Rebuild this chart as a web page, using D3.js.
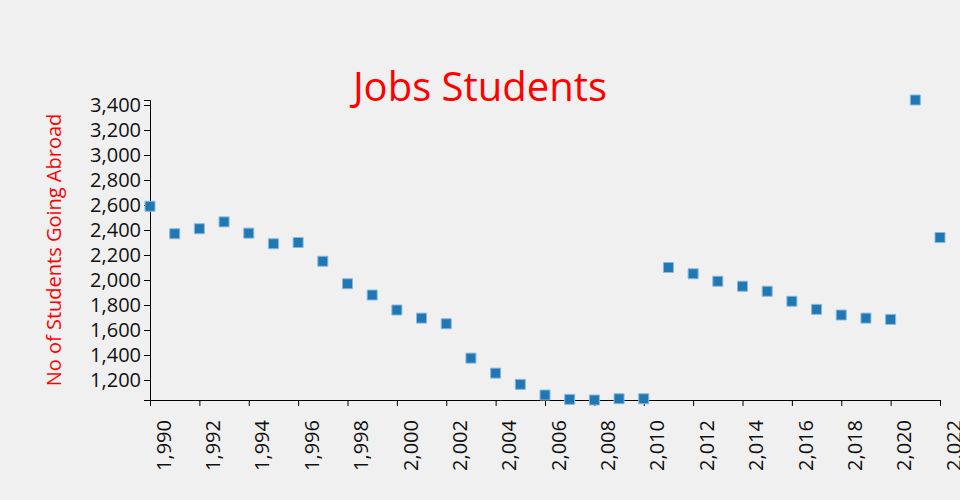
<!DOCTYPE html>
<html>
<head>
<meta charset="utf-8">
<script src="https://cdn.jsdelivr.net/npm/d3@7"></script>
<style>
  html, body { margin: 0; padding: 0; background: #f0f0f0; }
  svg { display: block; background: #f0f0f0; font-family: "Open Sans", sans-serif; }
</style>
</head>
<body>
<svg id="chart" width="960" height="500"></svg>
<script>
const years = [1990,1991,1992,1993,1994,1995,1996,1997,1998,1999,2000,2001,2002,2003,2004,2005,2006,2007,2008,2009,2010,2011,2012,2013,2014,2015,2016,2017,2018,2019,2020,2021,2022];
const students = [2590,2370,2410,2465,2375,2290,2300,2150,1970,1880,1760,1695,1650,1375,1255,1165,1080,1045,1040,1050,1050,2100,2050,1990,1950,1910,1830,1765,1720,1695,1685,3440,2340];
const titleText = "Jobs Students";
const yLabel = "No of Students Going Abroad";

const svg = d3.select("#chart");
const margin = {top: 100, right: 20, bottom: 100, left: 150};
const W = 960, H = 500;
const iw = W - margin.left - margin.right;
const ih = H - margin.top - margin.bottom;

const x = d3.scaleLinear().domain(d3.extent(years)).range([0, iw]);
const y = d3.scaleLinear().domain(d3.extent(students)).range([ih, 0]);

const g = svg.append("g").attr("transform", `translate(${margin.left},${margin.top})`);

const xAxis = g.append("g")
  .attr("transform", `translate(0,${ih})`)
  .call(d3.axisBottom(x).ticks(16).tickFormat(d3.format(",")));
xAxis.selectAll("text")
  .attr("transform", "rotate(-90)")
  .attr("text-anchor", "end")
  .attr("x", -20)
  .attr("y", 6)
  .attr("dy", "0.71em")
  .style("font-size", "20px")
  .style("font-family", "Open Sans")
  .attr("fill", "#111");

const yAxis = g.append("g")
  .call(d3.axisLeft(y).ticks(10).tickFormat(d3.format(",")));
yAxis.selectAll("text")
  .style("font-size", "20px")
  .style("font-family", "Open Sans")
  .attr("fill", "#111");

g.selectAll(".pt")
  .data(years.map((yr, i) => ({yr, v: students[i]})))
  .enter().append("path")
  .attr("class", "pt")
  .attr("d", d3.symbol().type(d3.symbolSquare).size(100))
  .attr("transform", d => `translate(${x(d.yr)},${y(d.v)})`)
  .attr("fill", "#1f77b4")
  .attr("stroke", "#8ab8dc")
  .attr("stroke-width", 1);

svg.append("text")
  .attr("x", 480)
  .attr("y", 101)
  .attr("text-anchor", "middle")
  .attr("fill", "red")
  .style("font-size", "40px")
  .style("font-family", "Open Sans")
  .text(titleText);

svg.append("text")
  .attr("transform", `translate(60.5,${margin.top + ih / 2}) rotate(-90)`)
  .attr("text-anchor", "middle")
  .attr("fill", "red")
  .style("font-size", "20px")
  .style("font-family", "Open Sans")
  .text(yLabel);
</script>
</body>
</html>
